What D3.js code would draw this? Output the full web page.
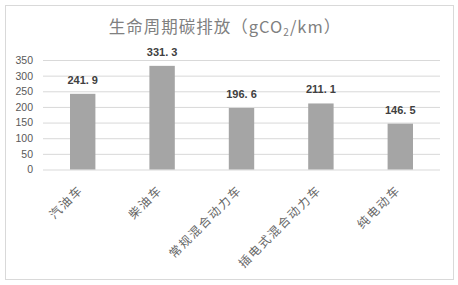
<!DOCTYPE html>
<html>
<head>
<meta charset="utf-8">
<script src="https://cdn.jsdelivr.net/npm/d3@7/dist/d3.min.js"></script>
<style>
  html, body { margin: 0; padding: 0; background: #fff; }
  svg { display: block; }
</style>
</head>
<body>
<svg id="chart" width="458" height="285"></svg>
<script>
// Life-cycle carbon emissions by vehicle type
const categories = ["汽油车", "柴油车", "常规混合动力车", "插电式混合动力车", "纯电动车"];
const values = [241.9, 331.3, 196.6, 211.1, 146.5];
const yTicks = [0, 50, 100, 150, 200, 250, 300, 350];

const svg = d3.select("#chart");
const W = 458, H = 285;
const margin = { left: 43, right: 18, top: 60, bottom: 115.5 };

// chart frame
svg.append("rect")
  .attr("x", 5.5).attr("y", 5.5)
  .attr("width", 448).attr("height", 274)
  .attr("fill", "#fff").attr("stroke", "#d9d9d9").attr("stroke-width", 1);

const x = d3.scaleBand()
  .domain(categories)
  .range([margin.left, W - margin.right])
  .paddingInner(0.68).paddingOuter(0.34);

const y = d3.scaleLinear()
  .domain([0, 350])
  .range([H - margin.bottom, margin.top]);

// title
const title = svg.append("text")
  .attr("x", 225).attr("y", 33)
  .attr("text-anchor", "middle")
  .attr("fill", "#808080")
  .attr("font-family", "'Noto Sans CJK SC', sans-serif")
  .attr("font-size", 16.5)
  .attr("letter-spacing", 1);
title.append("tspan").text("生命周期碳排放（gCO");
title.append("tspan").attr("font-size", 10).attr("dy", 3).text("2");
title.append("tspan").attr("dy", -3).text("/km）");

// horizontal gridlines
const yAxis = d3.axisLeft(y).tickValues(yTicks).tickSize(-(W - margin.left - margin.right)).tickPadding(10);
const gy = svg.append("g").attr("transform", `translate(${margin.left},0)`).call(yAxis);
gy.select(".domain").remove();
gy.selectAll(".tick line").attr("stroke", "#d9d9d9");
gy.selectAll(".tick text")
  .attr("fill", "#595959")
  .attr("font-family", "Arial, 'Liberation Sans', sans-serif")
  .attr("font-size", 10.5);

// bars
svg.append("g").selectAll("rect")
  .data(values)
  .join("rect")
  .attr("x", (d, i) => x(categories[i]))
  .attr("y", d => y(d))
  .attr("width", x.bandwidth())
  .attr("height", d => y(0) - y(d))
  .attr("fill", "#a5a5a5");

// value labels
svg.append("g").selectAll("text")
  .data(values)
  .join("text")
  .attr("x", (d, i) => x(categories[i]) + x.bandwidth() / 2)
  .attr("y", d => y(d) - 10)
  .attr("text-anchor", "middle")
  .attr("fill", "#404040")
  .attr("font-weight", "bold")
  .attr("font-family", "Arial, 'Liberation Sans', sans-serif")
  .attr("font-size", 11)
  .text(d => d.toFixed(1).replace(".", ". "));

// rotated category labels
svg.append("g").selectAll("text")
  .data(categories)
  .join("text")
  .attr("transform", d => `translate(${x(d) + x.bandwidth() / 2 + 1},${y(0) + 21}) rotate(-45)`)
  .attr("text-anchor", "end")
  .attr("fill", "#666")
  .attr("font-family", "'Noto Sans CJK SC', sans-serif")
  .attr("font-size", 12)
  .attr("letter-spacing", 1.8)
  .text(d => d);
</script>
</body>
</html>
